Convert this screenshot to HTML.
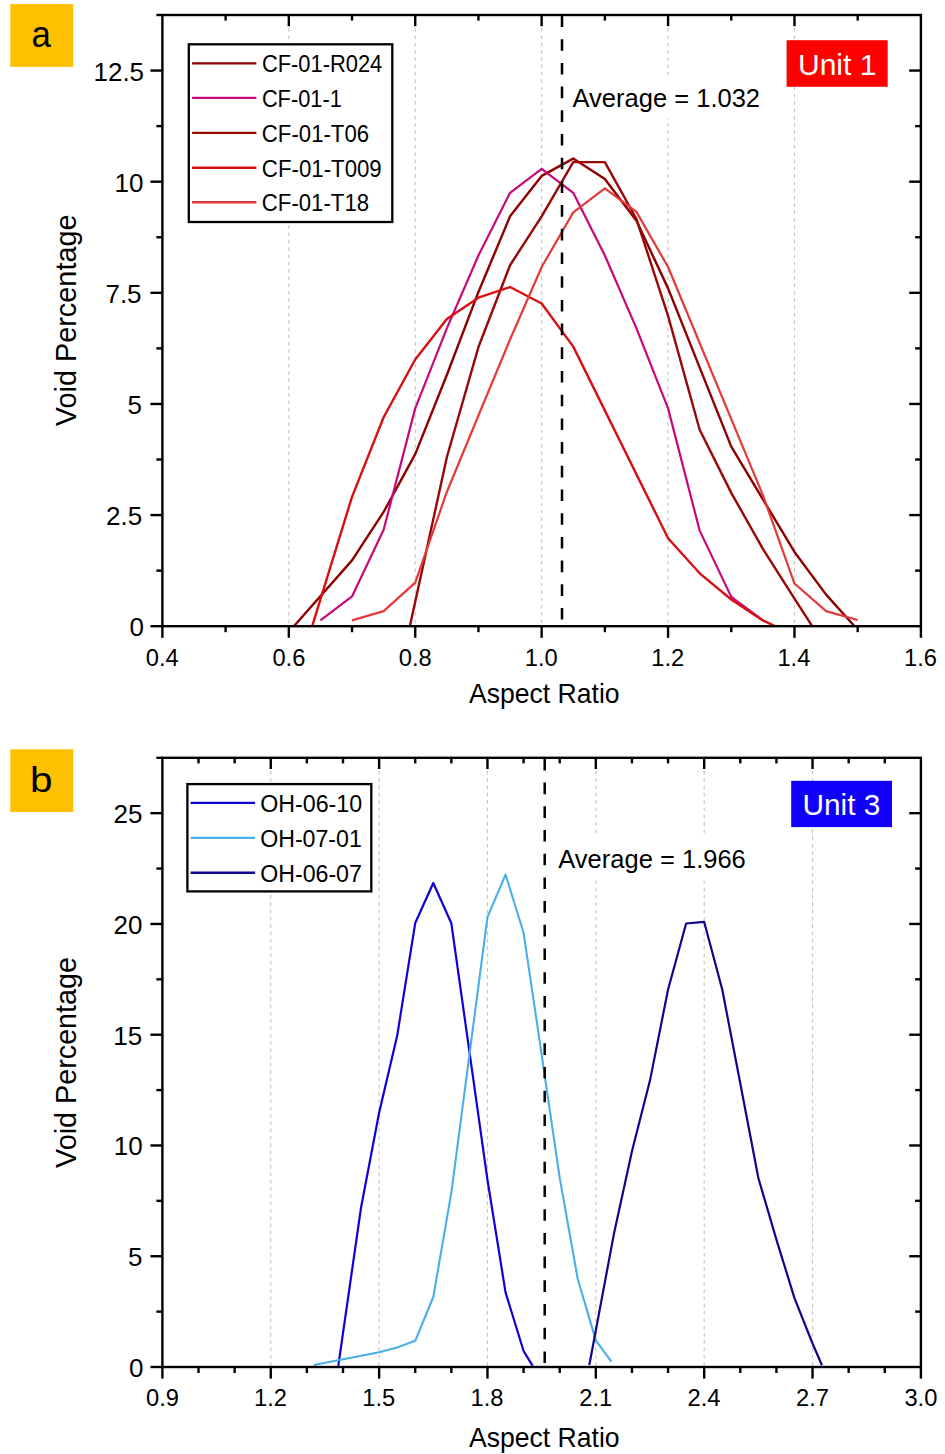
<!DOCTYPE html>
<html><head><meta charset="utf-8"><title>Void percentage vs aspect ratio</title>
<style>html,body{margin:0;padding:0;background:#fff;}svg{display:block;}</style></head>
<body><svg width="945" height="1454" viewBox="0 0 945 1454" font-family='"Liberation Sans", sans-serif'>
<rect width="945" height="1454" fill="#fff"/>
<line x1="288.82" y1="15" x2="288.82" y2="626.2" stroke="#c6c6c6" stroke-width="1.15" stroke-dasharray="3.7 3.6" stroke-dashoffset="1.5"/>
<line x1="415.23" y1="15" x2="415.23" y2="626.2" stroke="#c6c6c6" stroke-width="1.15" stroke-dasharray="3.7 3.6" stroke-dashoffset="1.5"/>
<line x1="541.65" y1="15" x2="541.65" y2="626.2" stroke="#c6c6c6" stroke-width="1.15" stroke-dasharray="3.7 3.6" stroke-dashoffset="1.5"/>
<line x1="668.07" y1="15" x2="668.07" y2="626.2" stroke="#c6c6c6" stroke-width="1.15" stroke-dasharray="3.7 3.6" stroke-dashoffset="1.5"/>
<line x1="794.48" y1="15" x2="794.48" y2="626.2" stroke="#c6c6c6" stroke-width="1.15" stroke-dasharray="3.7 3.6" stroke-dashoffset="1.5"/>
<rect x="566" y="75.2" width="202" height="43.2" fill="#fff"/>
<polyline points="293.87,626.2 352.02,560.41 383.63,511.96 415.23,454.17 446.84,375.05 478.44,291.93 510.05,216.36 541.65,175.91 573.25,158.58 604.86,179.02 636.46,220.81 668.07,288.37 731.27,446.62 794.48,551.97 826.09,594.64 854.53,626.2" fill="none" stroke="#8e0000" stroke-width="2.4" stroke-linejoin="round"/>
<polyline points="320.42,620.42 352.02,596.42 383.63,529.74 415.23,408.39 446.84,328.38 478.44,255.48 510.05,192.8 541.65,168.8 573.25,192.8 604.86,255.48 636.46,328.38 668.07,408.39 699.67,530.63 731.27,596.86 762.88,620.42" fill="none" stroke="#c8087a" stroke-width="2.2" stroke-linejoin="round"/>
<polyline points="409.86,626.2 446.84,457.29 478.44,347.05 510.05,265.26 541.65,216.36 573.25,162.13 604.86,162.13 636.46,219.03 668.07,315.93 699.67,429.73 731.27,492.85 762.88,548.86 794.48,598.64 812.18,626.2" fill="none" stroke="#990808" stroke-width="2.4" stroke-linejoin="round"/>
<polyline points="312.2,626.2 352.02,496.85 383.63,417.28 415.23,359.49 446.84,319.04 478.44,297.71 510.05,287.04 541.65,303.49 573.25,346.6 668.07,538.19 699.67,573.3 731.27,599.53 762.88,620.42 774.89,626.2" fill="none" stroke="#d80f12" stroke-width="2.4" stroke-linejoin="round"/>
<polyline points="352.02,620.42 383.63,611.09 415.23,582.64 446.84,491.96 478.44,415.5 510.05,339.49 541.65,267.04 573.25,212.36 604.86,188.36 636.46,211.92 668.07,267.04 762.88,495.07 794.48,583.53 826.09,611.09 857.69,619.98" fill="none" stroke="#e23a3a" stroke-width="2.2" stroke-linejoin="round"/>
<line x1="562" y1="15.5" x2="562" y2="626.2" stroke="#000" stroke-width="2.5" stroke-dasharray="11.6 12.1"/>
<rect x="162.4" y="15" width="758.5" height="611.2" fill="none" stroke="#000" stroke-width="2.4"/>
<line x1="162.4" y1="626.2" x2="162.4" y2="637.8" stroke="#000" stroke-width="2.4"/>
<text x="145.81" y="665.5" font-size="23.7" textLength="32.95" lengthAdjust="spacingAndGlyphs" fill="#000">0.4</text>
<line x1="288.82" y1="626.2" x2="288.82" y2="637.8" stroke="#000" stroke-width="2.4"/>
<line x1="288.82" y1="15" x2="288.82" y2="26.2" stroke="#000" stroke-width="2.4"/>
<text x="272.4" y="665.5" font-size="23.7" textLength="32.95" lengthAdjust="spacingAndGlyphs" fill="#000">0.6</text>
<line x1="415.23" y1="626.2" x2="415.23" y2="637.8" stroke="#000" stroke-width="2.4"/>
<line x1="415.23" y1="15" x2="415.23" y2="26.2" stroke="#000" stroke-width="2.4"/>
<text x="398.81" y="665.5" font-size="23.7" textLength="32.95" lengthAdjust="spacingAndGlyphs" fill="#000">0.8</text>
<line x1="541.65" y1="626.2" x2="541.65" y2="637.8" stroke="#000" stroke-width="2.4"/>
<line x1="541.65" y1="15" x2="541.65" y2="26.2" stroke="#000" stroke-width="2.4"/>
<text x="524.74" y="665.5" font-size="23.7" textLength="32.95" lengthAdjust="spacingAndGlyphs" fill="#000">1.0</text>
<line x1="668.07" y1="626.2" x2="668.07" y2="637.8" stroke="#000" stroke-width="2.4"/>
<line x1="668.07" y1="15" x2="668.07" y2="26.2" stroke="#000" stroke-width="2.4"/>
<text x="651.29" y="665.5" font-size="23.7" textLength="32.95" lengthAdjust="spacingAndGlyphs" fill="#000">1.2</text>
<line x1="794.48" y1="626.2" x2="794.48" y2="637.8" stroke="#000" stroke-width="2.4"/>
<line x1="794.48" y1="15" x2="794.48" y2="26.2" stroke="#000" stroke-width="2.4"/>
<text x="777.45" y="665.5" font-size="23.7" textLength="32.95" lengthAdjust="spacingAndGlyphs" fill="#000">1.4</text>
<line x1="920.9" y1="626.2" x2="920.9" y2="637.8" stroke="#000" stroke-width="2.4"/>
<text x="904.04" y="665.5" font-size="23.7" textLength="32.95" lengthAdjust="spacingAndGlyphs" fill="#000">1.6</text>
<line x1="225.61" y1="626.2" x2="225.61" y2="632.2" stroke="#000" stroke-width="2.4"/>
<line x1="225.61" y1="15" x2="225.61" y2="20.6" stroke="#000" stroke-width="2.4"/>
<line x1="352.02" y1="626.2" x2="352.02" y2="632.2" stroke="#000" stroke-width="2.4"/>
<line x1="352.02" y1="15" x2="352.02" y2="20.6" stroke="#000" stroke-width="2.4"/>
<line x1="478.44" y1="626.2" x2="478.44" y2="632.2" stroke="#000" stroke-width="2.4"/>
<line x1="478.44" y1="15" x2="478.44" y2="20.6" stroke="#000" stroke-width="2.4"/>
<line x1="604.86" y1="626.2" x2="604.86" y2="632.2" stroke="#000" stroke-width="2.4"/>
<line x1="604.86" y1="15" x2="604.86" y2="20.6" stroke="#000" stroke-width="2.4"/>
<line x1="731.27" y1="626.2" x2="731.27" y2="632.2" stroke="#000" stroke-width="2.4"/>
<line x1="731.27" y1="15" x2="731.27" y2="20.6" stroke="#000" stroke-width="2.4"/>
<line x1="857.69" y1="626.2" x2="857.69" y2="632.2" stroke="#000" stroke-width="2.4"/>
<line x1="857.69" y1="15" x2="857.69" y2="20.6" stroke="#000" stroke-width="2.4"/>
<line x1="162.4" y1="626.2" x2="150.4" y2="626.2" stroke="#000" stroke-width="2.4"/>
<text x="129.46" y="636.2" font-size="26" textLength="14.46" lengthAdjust="spacingAndGlyphs" fill="#000">0</text>
<line x1="162.4" y1="515.07" x2="150.4" y2="515.07" stroke="#000" stroke-width="2.4"/>
<line x1="920.9" y1="515.07" x2="909.2" y2="515.07" stroke="#000" stroke-width="2.4"/>
<text x="106.05" y="525.07" font-size="26" textLength="36.14" lengthAdjust="spacingAndGlyphs" fill="#000">2.5</text>
<line x1="162.4" y1="403.95" x2="150.4" y2="403.95" stroke="#000" stroke-width="2.4"/>
<line x1="920.9" y1="403.95" x2="909.2" y2="403.95" stroke="#000" stroke-width="2.4"/>
<text x="127.43" y="413.95" font-size="26" textLength="14.46" lengthAdjust="spacingAndGlyphs" fill="#000">5</text>
<line x1="162.4" y1="292.82" x2="150.4" y2="292.82" stroke="#000" stroke-width="2.4"/>
<line x1="920.9" y1="292.82" x2="909.2" y2="292.82" stroke="#000" stroke-width="2.4"/>
<text x="105.45" y="302.82" font-size="26" textLength="36.14" lengthAdjust="spacingAndGlyphs" fill="#000">7.5</text>
<line x1="162.4" y1="181.69" x2="150.4" y2="181.69" stroke="#000" stroke-width="2.4"/>
<line x1="920.9" y1="181.69" x2="909.2" y2="181.69" stroke="#000" stroke-width="2.4"/>
<text x="114.5" y="191.69" font-size="26" textLength="28.92" lengthAdjust="spacingAndGlyphs" fill="#000">10</text>
<line x1="162.4" y1="70.56" x2="150.4" y2="70.56" stroke="#000" stroke-width="2.4"/>
<line x1="920.9" y1="70.56" x2="909.2" y2="70.56" stroke="#000" stroke-width="2.4"/>
<text x="93.49" y="80.56" font-size="26" textLength="50.6" lengthAdjust="spacingAndGlyphs" fill="#000">12.5</text>
<line x1="162.4" y1="570.64" x2="156.4" y2="570.64" stroke="#000" stroke-width="2.4"/>
<line x1="920.9" y1="570.64" x2="915.1" y2="570.64" stroke="#000" stroke-width="2.4"/>
<line x1="162.4" y1="459.51" x2="156.4" y2="459.51" stroke="#000" stroke-width="2.4"/>
<line x1="920.9" y1="459.51" x2="915.1" y2="459.51" stroke="#000" stroke-width="2.4"/>
<line x1="162.4" y1="348.38" x2="156.4" y2="348.38" stroke="#000" stroke-width="2.4"/>
<line x1="920.9" y1="348.38" x2="915.1" y2="348.38" stroke="#000" stroke-width="2.4"/>
<line x1="162.4" y1="237.25" x2="156.4" y2="237.25" stroke="#000" stroke-width="2.4"/>
<line x1="920.9" y1="237.25" x2="915.1" y2="237.25" stroke="#000" stroke-width="2.4"/>
<line x1="162.4" y1="126.13" x2="156.4" y2="126.13" stroke="#000" stroke-width="2.4"/>
<line x1="920.9" y1="126.13" x2="915.1" y2="126.13" stroke="#000" stroke-width="2.4"/>
<line x1="162.4" y1="15" x2="156.4" y2="15" stroke="#000" stroke-width="2.4"/>
<text x="572.55" y="106.6" font-size="25.6" textLength="187.53" lengthAdjust="spacingAndGlyphs" fill="#000">Average = 1.032</text>
<rect x="786.6" y="40.2" width="101.1" height="46.6" fill="#fd0000"/>
<text x="797.98" y="74.7" font-size="29.9" textLength="78.48" lengthAdjust="spacingAndGlyphs" fill="#fff">Unit 1</text>
<rect x="188.8" y="44.3" width="203.5" height="177.7" fill="#fff" stroke="#000" stroke-width="2.3"/>
<line x1="192.1" y1="63.4" x2="256.4" y2="63.4" stroke="#8e0000" stroke-width="2.4"/>
<text x="261.89" y="72.3" font-size="23.5" textLength="120.35" lengthAdjust="spacingAndGlyphs" fill="#000">CF-01-R024</text>
<line x1="192.1" y1="97.9" x2="256.4" y2="97.9" stroke="#c8087a" stroke-width="2.4"/>
<text x="261.89" y="106.8" font-size="23.5" textLength="79.87" lengthAdjust="spacingAndGlyphs" fill="#000">CF-01-1</text>
<line x1="192.1" y1="132.9" x2="256.4" y2="132.9" stroke="#990808" stroke-width="2.4"/>
<text x="261.87" y="141.8" font-size="23.5" textLength="107.2" lengthAdjust="spacingAndGlyphs" fill="#000">CF-01-T06</text>
<line x1="192.1" y1="167.8" x2="256.4" y2="167.8" stroke="#d80f12" stroke-width="2.4"/>
<text x="261.87" y="176.7" font-size="23.5" textLength="119.88" lengthAdjust="spacingAndGlyphs" fill="#000">CF-01-T009</text>
<line x1="192.1" y1="202.3" x2="256.4" y2="202.3" stroke="#e23a3a" stroke-width="2.4"/>
<text x="261.87" y="211.2" font-size="23.5" textLength="107.19" lengthAdjust="spacingAndGlyphs" fill="#000">CF-01-T18</text>
<text x="469.05" y="702.9" font-size="28" textLength="150.57" lengthAdjust="spacingAndGlyphs" fill="#000">Aspect Ratio</text>
<text transform="translate(75.5,426.1) rotate(-90)" x="-0.13" y="0" font-size="28.8" textLength="211.8" lengthAdjust="spacingAndGlyphs" fill="#000">Void Percentage</text>
<rect x="10.3" y="4.1" width="62.9" height="62.8" fill="#ffc000"/>
<text x="31.42" y="46.6" font-size="36.6" textLength="19.38" lengthAdjust="spacingAndGlyphs" fill="#000">a</text>
<line x1="270.76" y1="757.8" x2="270.76" y2="1367" stroke="#c6c6c6" stroke-width="1.15" stroke-dasharray="3.7 3.6" stroke-dashoffset="1.5"/>
<line x1="379.11" y1="757.8" x2="379.11" y2="1367" stroke="#c6c6c6" stroke-width="1.15" stroke-dasharray="3.7 3.6" stroke-dashoffset="1.5"/>
<line x1="487.47" y1="757.8" x2="487.47" y2="1367" stroke="#c6c6c6" stroke-width="1.15" stroke-dasharray="3.7 3.6" stroke-dashoffset="1.5"/>
<line x1="595.83" y1="757.8" x2="595.83" y2="1367" stroke="#c6c6c6" stroke-width="1.15" stroke-dasharray="3.7 3.6" stroke-dashoffset="1.5"/>
<line x1="704.19" y1="757.8" x2="704.19" y2="1367" stroke="#c6c6c6" stroke-width="1.15" stroke-dasharray="3.7 3.6" stroke-dashoffset="1.5"/>
<line x1="812.54" y1="757.8" x2="812.54" y2="1367" stroke="#c6c6c6" stroke-width="1.15" stroke-dasharray="3.7 3.6" stroke-dashoffset="1.5"/>
<rect x="550" y="834.4" width="202" height="45.7" fill="#fff"/>
<polyline points="338.3,1365.89 361.05,1207.5 379.11,1112.69 397.17,1035.82 415.23,923.06 433.29,882.96 451.35,923.28 487.47,1179.81 505.53,1292.35 523.59,1351.05 532.62,1365.89" fill="none" stroke="#1000d6" stroke-width="2.2" stroke-linejoin="round"/>
<polyline points="313.74,1365.01 379.11,1352.16 397.17,1347.51 415.23,1340.86 433.29,1297 451.35,1192.66 487.47,917.08 505.53,874.54 523.59,932.81 541.65,1054.65 559.71,1177.82 577.77,1279.05 595.83,1340.42 611.36,1361.68" fill="none" stroke="#4aaeea" stroke-width="2.1" stroke-linejoin="round"/>
<polyline points="589.33,1365.01 613.89,1234.08 631.95,1151.23 650.01,1080.34 668.07,989.52 686.13,923.5 704.19,921.95 722.25,989.52 740.3,1083.45 758.36,1178.04 776.42,1239.62 794.48,1298.11 812.54,1343.52 821.93,1365.23" fill="none" stroke="#10068c" stroke-width="2.2" stroke-linejoin="round"/>
<line x1="544.7" y1="758.9" x2="544.7" y2="1367" stroke="#000" stroke-width="2.5" stroke-dasharray="11.6 12.1"/>
<rect x="162.4" y="757.8" width="758.5" height="609.2" fill="none" stroke="#000" stroke-width="2.4"/>
<line x1="162.4" y1="1367" x2="162.4" y2="1378.6" stroke="#000" stroke-width="2.4"/>
<text x="146.03" y="1406.3" font-size="23.7" textLength="32.95" lengthAdjust="spacingAndGlyphs" fill="#000">0.9</text>
<line x1="270.76" y1="1367" x2="270.76" y2="1378.6" stroke="#000" stroke-width="2.4"/>
<line x1="270.76" y1="757.8" x2="270.76" y2="769" stroke="#000" stroke-width="2.4"/>
<text x="253.98" y="1406.3" font-size="23.7" textLength="32.95" lengthAdjust="spacingAndGlyphs" fill="#000">1.2</text>
<line x1="379.11" y1="1367" x2="379.11" y2="1378.6" stroke="#000" stroke-width="2.4"/>
<line x1="379.11" y1="757.8" x2="379.11" y2="769" stroke="#000" stroke-width="2.4"/>
<text x="362.24" y="1406.3" font-size="23.7" textLength="32.95" lengthAdjust="spacingAndGlyphs" fill="#000">1.5</text>
<line x1="487.47" y1="1367" x2="487.47" y2="1378.6" stroke="#000" stroke-width="2.4"/>
<line x1="487.47" y1="757.8" x2="487.47" y2="769" stroke="#000" stroke-width="2.4"/>
<text x="470.61" y="1406.3" font-size="23.7" textLength="32.95" lengthAdjust="spacingAndGlyphs" fill="#000">1.8</text>
<line x1="595.83" y1="1367" x2="595.83" y2="1378.6" stroke="#000" stroke-width="2.4"/>
<line x1="595.83" y1="757.8" x2="595.83" y2="769" stroke="#000" stroke-width="2.4"/>
<text x="579.34" y="1406.3" font-size="23.7" textLength="32.95" lengthAdjust="spacingAndGlyphs" fill="#000">2.1</text>
<line x1="704.19" y1="1367" x2="704.19" y2="1378.6" stroke="#000" stroke-width="2.4"/>
<line x1="704.19" y1="757.8" x2="704.19" y2="769" stroke="#000" stroke-width="2.4"/>
<text x="687.46" y="1406.3" font-size="23.7" textLength="32.95" lengthAdjust="spacingAndGlyphs" fill="#000">2.4</text>
<line x1="812.54" y1="1367" x2="812.54" y2="1378.6" stroke="#000" stroke-width="2.4"/>
<line x1="812.54" y1="757.8" x2="812.54" y2="769" stroke="#000" stroke-width="2.4"/>
<text x="796.07" y="1406.3" font-size="23.7" textLength="32.95" lengthAdjust="spacingAndGlyphs" fill="#000">2.7</text>
<line x1="920.9" y1="1367" x2="920.9" y2="1378.6" stroke="#000" stroke-width="2.4"/>
<text x="904.44" y="1406.3" font-size="23.7" textLength="32.95" lengthAdjust="spacingAndGlyphs" fill="#000">3.0</text>
<line x1="198.52" y1="1367" x2="198.52" y2="1373" stroke="#000" stroke-width="2.4"/>
<line x1="198.52" y1="757.8" x2="198.52" y2="763.4" stroke="#000" stroke-width="2.4"/>
<line x1="234.64" y1="1367" x2="234.64" y2="1373" stroke="#000" stroke-width="2.4"/>
<line x1="234.64" y1="757.8" x2="234.64" y2="763.4" stroke="#000" stroke-width="2.4"/>
<line x1="306.88" y1="1367" x2="306.88" y2="1373" stroke="#000" stroke-width="2.4"/>
<line x1="306.88" y1="757.8" x2="306.88" y2="763.4" stroke="#000" stroke-width="2.4"/>
<line x1="343" y1="1367" x2="343" y2="1373" stroke="#000" stroke-width="2.4"/>
<line x1="343" y1="757.8" x2="343" y2="763.4" stroke="#000" stroke-width="2.4"/>
<line x1="415.23" y1="1367" x2="415.23" y2="1373" stroke="#000" stroke-width="2.4"/>
<line x1="415.23" y1="757.8" x2="415.23" y2="763.4" stroke="#000" stroke-width="2.4"/>
<line x1="451.35" y1="1367" x2="451.35" y2="1373" stroke="#000" stroke-width="2.4"/>
<line x1="451.35" y1="757.8" x2="451.35" y2="763.4" stroke="#000" stroke-width="2.4"/>
<line x1="523.59" y1="1367" x2="523.59" y2="1373" stroke="#000" stroke-width="2.4"/>
<line x1="523.59" y1="757.8" x2="523.59" y2="763.4" stroke="#000" stroke-width="2.4"/>
<line x1="559.71" y1="1367" x2="559.71" y2="1373" stroke="#000" stroke-width="2.4"/>
<line x1="559.71" y1="757.8" x2="559.71" y2="763.4" stroke="#000" stroke-width="2.4"/>
<line x1="631.95" y1="1367" x2="631.95" y2="1373" stroke="#000" stroke-width="2.4"/>
<line x1="631.95" y1="757.8" x2="631.95" y2="763.4" stroke="#000" stroke-width="2.4"/>
<line x1="668.07" y1="1367" x2="668.07" y2="1373" stroke="#000" stroke-width="2.4"/>
<line x1="668.07" y1="757.8" x2="668.07" y2="763.4" stroke="#000" stroke-width="2.4"/>
<line x1="740.3" y1="1367" x2="740.3" y2="1373" stroke="#000" stroke-width="2.4"/>
<line x1="740.3" y1="757.8" x2="740.3" y2="763.4" stroke="#000" stroke-width="2.4"/>
<line x1="776.42" y1="1367" x2="776.42" y2="1373" stroke="#000" stroke-width="2.4"/>
<line x1="776.42" y1="757.8" x2="776.42" y2="763.4" stroke="#000" stroke-width="2.4"/>
<line x1="848.66" y1="1367" x2="848.66" y2="1373" stroke="#000" stroke-width="2.4"/>
<line x1="848.66" y1="757.8" x2="848.66" y2="763.4" stroke="#000" stroke-width="2.4"/>
<line x1="884.78" y1="1367" x2="884.78" y2="1373" stroke="#000" stroke-width="2.4"/>
<line x1="884.78" y1="757.8" x2="884.78" y2="763.4" stroke="#000" stroke-width="2.4"/>
<line x1="162.4" y1="1367" x2="150.4" y2="1367" stroke="#000" stroke-width="2.4"/>
<text x="128.96" y="1377" font-size="26" textLength="14.46" lengthAdjust="spacingAndGlyphs" fill="#000">0</text>
<line x1="162.4" y1="1256.24" x2="150.4" y2="1256.24" stroke="#000" stroke-width="2.4"/>
<line x1="920.9" y1="1256.24" x2="909.2" y2="1256.24" stroke="#000" stroke-width="2.4"/>
<text x="128.03" y="1266.24" font-size="26" textLength="14.46" lengthAdjust="spacingAndGlyphs" fill="#000">5</text>
<line x1="162.4" y1="1145.47" x2="150.4" y2="1145.47" stroke="#000" stroke-width="2.4"/>
<line x1="920.9" y1="1145.47" x2="909.2" y2="1145.47" stroke="#000" stroke-width="2.4"/>
<text x="113.8" y="1155.47" font-size="26" textLength="28.92" lengthAdjust="spacingAndGlyphs" fill="#000">10</text>
<line x1="162.4" y1="1034.71" x2="150.4" y2="1034.71" stroke="#000" stroke-width="2.4"/>
<line x1="920.9" y1="1034.71" x2="909.2" y2="1034.71" stroke="#000" stroke-width="2.4"/>
<text x="113.27" y="1044.71" font-size="26" textLength="28.92" lengthAdjust="spacingAndGlyphs" fill="#000">15</text>
<line x1="162.4" y1="923.95" x2="150.4" y2="923.95" stroke="#000" stroke-width="2.4"/>
<line x1="920.9" y1="923.95" x2="909.2" y2="923.95" stroke="#000" stroke-width="2.4"/>
<text x="113.5" y="933.95" font-size="26" textLength="28.92" lengthAdjust="spacingAndGlyphs" fill="#000">20</text>
<line x1="162.4" y1="813.18" x2="150.4" y2="813.18" stroke="#000" stroke-width="2.4"/>
<line x1="920.9" y1="813.18" x2="909.2" y2="813.18" stroke="#000" stroke-width="2.4"/>
<text x="113.47" y="823.18" font-size="26" textLength="28.92" lengthAdjust="spacingAndGlyphs" fill="#000">25</text>
<line x1="162.4" y1="1311.62" x2="156.4" y2="1311.62" stroke="#000" stroke-width="2.4"/>
<line x1="920.9" y1="1311.62" x2="915.1" y2="1311.62" stroke="#000" stroke-width="2.4"/>
<line x1="162.4" y1="1200.85" x2="156.4" y2="1200.85" stroke="#000" stroke-width="2.4"/>
<line x1="920.9" y1="1200.85" x2="915.1" y2="1200.85" stroke="#000" stroke-width="2.4"/>
<line x1="162.4" y1="1090.09" x2="156.4" y2="1090.09" stroke="#000" stroke-width="2.4"/>
<line x1="920.9" y1="1090.09" x2="915.1" y2="1090.09" stroke="#000" stroke-width="2.4"/>
<line x1="162.4" y1="979.33" x2="156.4" y2="979.33" stroke="#000" stroke-width="2.4"/>
<line x1="920.9" y1="979.33" x2="915.1" y2="979.33" stroke="#000" stroke-width="2.4"/>
<line x1="162.4" y1="868.56" x2="156.4" y2="868.56" stroke="#000" stroke-width="2.4"/>
<line x1="920.9" y1="868.56" x2="915.1" y2="868.56" stroke="#000" stroke-width="2.4"/>
<line x1="162.4" y1="757.8" x2="156.4" y2="757.8" stroke="#000" stroke-width="2.4"/>
<text x="558.25" y="868" font-size="25.6" textLength="187.57" lengthAdjust="spacingAndGlyphs" fill="#000">Average = 1.966</text>
<rect x="791.2" y="780.8" width="100.8" height="46.3" fill="#1000fb"/>
<text x="802.5" y="815.1" font-size="29.5" textLength="77.81" lengthAdjust="spacingAndGlyphs" fill="#fff">Unit 3</text>
<rect x="187.4" y="784.1" width="183.9" height="107.3" fill="#fff" stroke="#000" stroke-width="2.3"/>
<line x1="190.6" y1="802.9" x2="255.1" y2="802.9" stroke="#1000d6" stroke-width="2.4"/>
<text x="260.2" y="811.9" font-size="23" textLength="101.91" lengthAdjust="spacingAndGlyphs" fill="#000">OH-06-10</text>
<line x1="190.6" y1="837.9" x2="255.1" y2="837.9" stroke="#4aaeea" stroke-width="2.4"/>
<text x="260.2" y="846.9" font-size="23" textLength="101.63" lengthAdjust="spacingAndGlyphs" fill="#000">OH-07-01</text>
<line x1="190.6" y1="872.8" x2="255.1" y2="872.8" stroke="#10068c" stroke-width="2.4"/>
<text x="260.2" y="881.8" font-size="23" textLength="101.66" lengthAdjust="spacingAndGlyphs" fill="#000">OH-06-07</text>
<text x="469.05" y="1447" font-size="28" textLength="150.57" lengthAdjust="spacingAndGlyphs" fill="#000">Aspect Ratio</text>
<text transform="translate(75.5,1167.8) rotate(-90)" x="-0.13" y="0" font-size="28.8" textLength="210.99" lengthAdjust="spacingAndGlyphs" fill="#000">Void Percentage</text>
<rect x="10.3" y="749.3" width="62.9" height="62.8" fill="#ffc000"/>
<text x="29.99" y="791.75" font-size="35.8" textLength="22.51" lengthAdjust="spacingAndGlyphs" fill="#000">b</text>
</svg></body></html>
